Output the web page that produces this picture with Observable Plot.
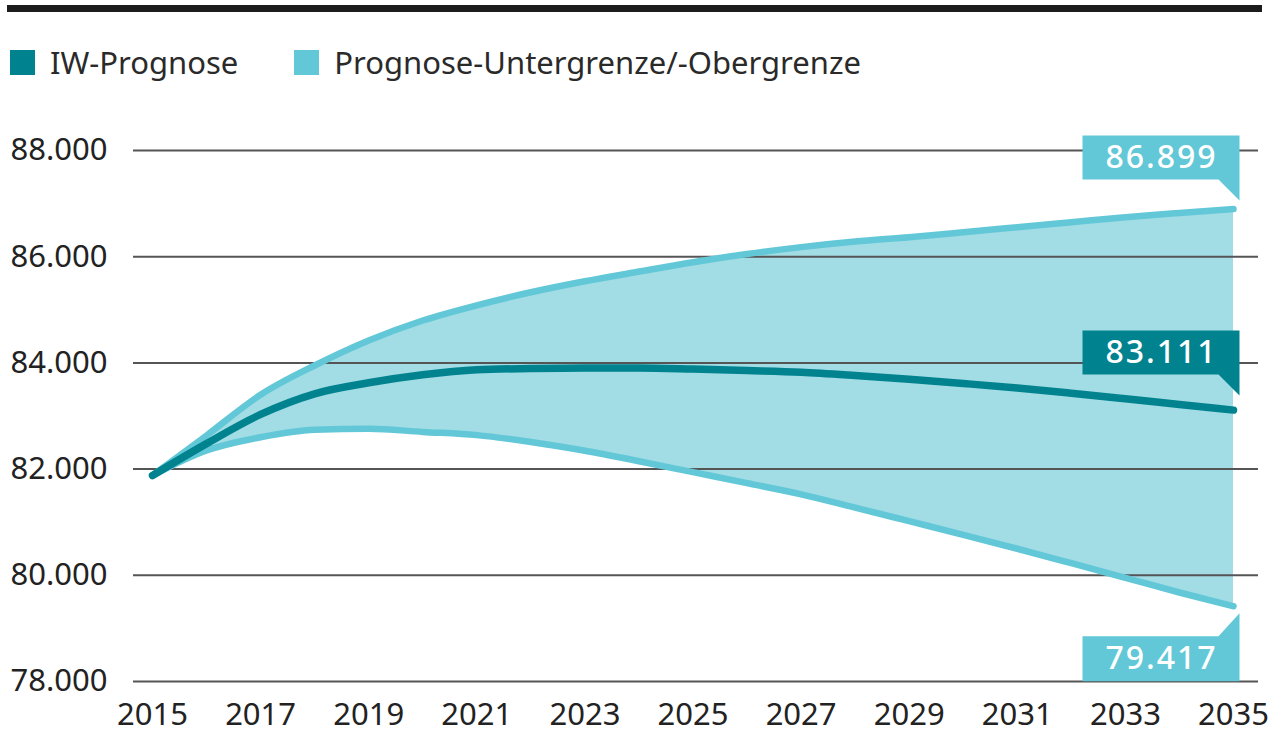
<!DOCTYPE html>
<html>
<head>
<meta charset="utf-8">
<script src="https://cdn.jsdelivr.net/npm/d3@7"></script>
<script src="https://cdn.jsdelivr.net/npm/@observablehq/plot@0.6"></script>
<style>
  html, body { margin: 0; padding: 0; background: #fff; }
  #wrap { position: relative; width: 1270px; height: 733px; overflow: hidden; font-family: "Noto Sans", sans-serif; color: #222; }
  #topbar { position: absolute; left: 7px; top: 5px; width: 1255px; height: 7px; background: #1c1c1c; }
  #legend { position: absolute; left: 10px; top: 44px; height: 36px; display: flex; align-items: center; font-size: 31px; color: #2a2a2a; }
  .item { display: flex; align-items: center; margin-right: 56px; }
  .sw { width: 25px; height: 25px; margin-right: 15px; }
  #chart { position: absolute; left: 0; top: 100px; }
</style>
</head>
<body>
<div id="wrap">
  <div id="topbar"></div>
  <div id="legend"></div>
  <div id="chart"></div>
</div>
<script>
// ---- data ----
const years = [2015, 2016, 2017, 2018, 2019, 2020, 2021, 2022, 2023, 2024, 2025,
               2026, 2027, 2028, 2029, 2030, 2031, 2032, 2033, 2034, 2035];
const iwPrognose = [81880, 82480, 83030, 83418, 83625, 83776, 83870, 83894, 83905, 83905, 83885,
                    83857, 83825, 83763, 83690, 83612, 83528, 83429, 83324, 83217, 83111];
const untergrenze = [81880, 82350, 82600, 82740, 82760, 82700, 82640, 82510, 82345, 82149, 81942,
                     81735, 81525, 81275, 81019, 80763, 80500, 80228, 79953, 79676, 79417];
const obergrenze = [81880, 82633, 83400, 83951, 84422, 84798, 85085, 85330, 85537, 85720, 85897,
                    86050, 86180, 86285, 86367, 86460, 86555, 86650, 86745, 86825, 86899];
const yTicks = [78000, 80000, 82000, 84000, 86000, 88000];
const xTicks = [2015, 2017, 2019, 2021, 2023, 2025, 2027, 2029, 2031, 2033, 2035];
const seriesNames = ["IW-Prognose", "Prognose-Untergrenze/-Obergrenze"];
const seriesColors = ["#00838f", "#62c8d7"];
const areaColor = "#a2dce5";

// ---- helpers ----
const de = d3.formatLocale({decimal: ",", thousands: ".", grouping: [3], currency: ["", " €"]});
const fmt = de.format(",");

const rows = years.map((year, i) => ({year, iw: iwPrognose[i], lo: untergrenze[i], hi: obergrenze[i]}));
const last = rows[rows.length - 1];

// legend
const legend = document.getElementById("legend");
seriesNames.forEach((name, i) => {
  const it = document.createElement("div");
  it.className = "item";
  it.innerHTML = `<div class="sw" style="background:${seriesColors[i]}"></div><span>${name}</span>`;
  legend.appendChild(it);
});

// callout shapes (drawn relative to the anchored data point)
function calloutDown(top, bottom, tip) {
  return {draw(ctx) {
    ctx.moveTo(-151, top); ctx.lineTo(6, top); ctx.lineTo(6, tip);
    ctx.lineTo(-15, bottom); ctx.lineTo(-151, bottom); ctx.closePath();
  }};
}
function calloutUp(top, bottom, tip) {
  return {draw(ctx) {
    ctx.moveTo(-151, bottom); ctx.lineTo(-151, top); ctx.lineTo(-15, top);
    ctx.lineTo(6, tip); ctx.lineTo(6, bottom); ctx.closePath();
  }};
}

const labelStyle = {fill: "white", fontSize: 32, fontWeight: 500, textAnchor: "middle", fontFamily: "Noto Sans"};

const chart = Plot.plot({
  width: 1270,
  height: 633,
  marginTop: 50,
  marginBottom: 52,
  marginLeft: 152,
  marginRight: 37,
  style: {fontFamily: "Noto Sans", fontSize: "31px", color: "#222", background: "transparent", overflow: "visible"},
  x: {domain: [2015, 2035], ticks: xTicks, tickFormat: d => String(d), tickSize: 0, tickPadding: 21, label: null},
  y: {domain: [78000, 88000], ticks: yTicks, tickFormat: fmt, tickSize: 0, tickPadding: 45, label: null},
  marks: [
    Plot.areaY(rows, {x: "year", y1: "lo", y2: "hi", fill: areaColor, curve: "monotone-x"}),
    Plot.ruleY(yTicks, {stroke: "#555", strokeWidth: 2, insetLeft: -19, insetRight: -25}),
    Plot.lineY(rows, {x: "year", y: "hi", stroke: seriesColors[1], strokeWidth: 6.5, curve: "monotone-x", strokeLinecap: "round"}),
    Plot.lineY(rows, {x: "year", y: "lo", stroke: seriesColors[1], strokeWidth: 6.5, curve: "monotone-x", strokeLinecap: "round"}),
    Plot.lineY(rows, {x: "year", y: "iw", stroke: seriesColors[0], strokeWidth: 7.5, curve: "monotone-x", strokeLinecap: "round"}),
    Plot.dot([last], {x: "year", y: "hi", symbol: calloutDown(-73.5, -29.5, -8.5), fill: seriesColors[1], r: 1}),
    Plot.dot([last], {x: "year", y: "iw", symbol: calloutDown(-79.6, -35.6, -14.6), fill: seriesColors[0], r: 1}),
    Plot.dot([last], {x: "year", y: "lo", symbol: calloutUp(30, 75, 7), fill: seriesColors[1], r: 1}),
    Plot.text([last], {x: "year", y: "hi", text: d => fmt(d.hi), dx: -72, dy: -51.5, ...labelStyle}),
    Plot.text([last], {x: "year", y: "iw", text: d => fmt(d.iw), dx: -72, dy: -57.6, ...labelStyle}),
    Plot.text([last], {x: "year", y: "lo", text: d => fmt(d.lo), dx: -72, dy: 52.7, ...labelStyle})
  ]
});
chart.querySelectorAll("text").forEach(t => {
  if (t.getAttribute("fill") === "white" || (t.parentNode && t.parentNode.getAttribute && t.parentNode.getAttribute("fill") === "white")) {
    t.setAttribute("letter-spacing", "2px");
  }
});
document.getElementById("chart").appendChild(chart);
</script>
</body>
</html>
